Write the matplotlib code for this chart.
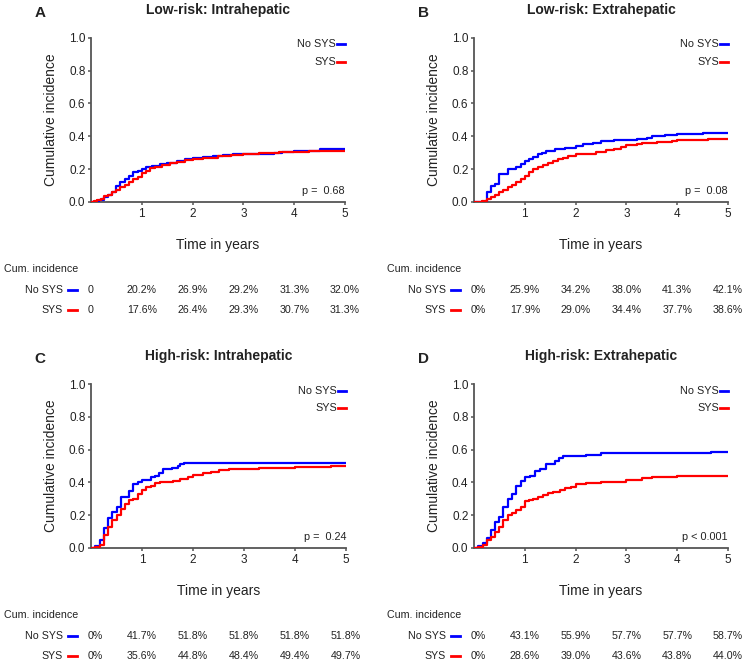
import numpy as np
import matplotlib
matplotlib.use("Agg")
from matplotlib import pyplot as plt

plt.rcParams['font.family'] = ['Liberation Sans', 'DejaVu Sans']

# step curves: (time in years, cumulative incidence)
a_nosys_t = [0, 0.15, 0.25, 0.33, 0.42, 0.5, 0.58, 0.67, 0.75, 0.83, 0.92, 1.0, 1.08, 1.2, 1.35, 1.5, 1.7, 1.85, 2.0, 2.2, 2.4, 2.6, 2.8, 3.0, 3.3, 3.6, 3.75, 4.0, 4.5, 5.0]
a_nosys_y = [0, 0.01, 0.03, 0.04, 0.06, 0.10, 0.12, 0.14, 0.16, 0.18, 0.19, 0.202, 0.21, 0.22, 0.23, 0.235, 0.25, 0.26, 0.269, 0.275, 0.28, 0.287, 0.29, 0.292, 0.295, 0.30, 0.307, 0.313, 0.32, 0.32]
a_sys_t = [0, 0.05, 0.12, 0.2, 0.25, 0.33, 0.42, 0.5, 0.58, 0.67, 0.75, 0.83, 0.92, 1.0, 1.08, 1.17, 1.25, 1.4, 1.55, 1.7, 1.85, 2.0, 2.2, 2.5, 2.75, 3.0, 3.3, 3.5, 3.7, 4.3, 4.8, 5.0]
a_sys_y = [0, 0.005, 0.01, 0.02, 0.035, 0.045, 0.06, 0.075, 0.09, 0.105, 0.12, 0.14, 0.155, 0.176, 0.19, 0.205, 0.215, 0.225, 0.235, 0.245, 0.255, 0.264, 0.27, 0.28, 0.288, 0.293, 0.296, 0.30, 0.307, 0.31, 0.313, 0.313]

b_nosys_t = [0, 0.25, 0.33, 0.42, 0.5, 0.67, 0.83, 0.92, 1.0, 1.08, 1.17, 1.25, 1.33, 1.42, 1.6, 1.8, 2.0, 2.15, 2.35, 2.5, 2.75, 3.0, 3.2, 3.4, 3.5, 3.75, 4.0, 4.2, 4.5, 5.0]
b_nosys_y = [0, 0.06, 0.10, 0.11, 0.17, 0.20, 0.21, 0.23, 0.25, 0.26, 0.275, 0.29, 0.30, 0.31, 0.32, 0.33, 0.342, 0.35, 0.36, 0.37, 0.375, 0.38, 0.385, 0.39, 0.40, 0.41, 0.413, 0.415, 0.42, 0.421]
b_sys_t = [0, 0.15, 0.25, 0.33, 0.42, 0.5, 0.58, 0.67, 0.75, 0.83, 0.92, 1.0, 1.08, 1.17, 1.25, 1.35, 1.45, 1.55, 1.65, 1.75, 1.85, 2.0, 2.2, 2.4, 2.6, 2.75, 2.9, 3.0, 3.2, 3.3, 3.6, 3.9, 4.0, 4.3, 4.6, 5.0]
b_sys_y = [0, 0.005, 0.02, 0.03, 0.045, 0.06, 0.075, 0.09, 0.105, 0.12, 0.14, 0.16, 0.18, 0.20, 0.215, 0.225, 0.235, 0.25, 0.26, 0.27, 0.28, 0.29, 0.295, 0.305, 0.315, 0.325, 0.335, 0.344, 0.355, 0.36, 0.365, 0.37, 0.377, 0.38, 0.383, 0.386]

c_nosys_t = [0, 0.08, 0.17, 0.25, 0.33, 0.42, 0.5, 0.58, 0.75, 0.83, 0.92, 1.0, 1.17, 1.25, 1.33, 1.42, 1.58, 1.7, 1.75, 1.83, 5.0]
c_nosys_y = [0, 0.01, 0.05, 0.12, 0.18, 0.22, 0.25, 0.31, 0.35, 0.39, 0.40, 0.417, 0.43, 0.44, 0.46, 0.48, 0.49, 0.50, 0.51, 0.518, 0.518]
c_sys_t = [0, 0.08, 0.17, 0.25, 0.33, 0.42, 0.5, 0.58, 0.67, 0.75, 0.83, 0.92, 1.0, 1.08, 1.17, 1.25, 1.35, 1.5, 1.6, 1.75, 1.9, 2.0, 2.2, 2.35, 2.5, 2.7, 3.0, 3.3, 4.0, 4.3, 4.7, 5.0]
c_sys_y = [0, 0.005, 0.02, 0.08, 0.13, 0.17, 0.20, 0.24, 0.27, 0.29, 0.30, 0.33, 0.356, 0.37, 0.38, 0.395, 0.40, 0.405, 0.41, 0.42, 0.43, 0.448, 0.455, 0.465, 0.475, 0.48, 0.484, 0.49, 0.494, 0.495, 0.497, 0.497]

d_nosys_t = [0, 0.08, 0.17, 0.25, 0.33, 0.42, 0.5, 0.58, 0.67, 0.75, 0.83, 0.92, 1.0, 1.1, 1.2, 1.3, 1.42, 1.6, 1.67, 1.75, 2.2, 2.5, 4.67, 5.0]
d_nosys_y = [0, 0.01, 0.03, 0.06, 0.11, 0.16, 0.19, 0.25, 0.30, 0.33, 0.38, 0.41, 0.431, 0.44, 0.47, 0.48, 0.51, 0.53, 0.55, 0.559, 0.567, 0.577, 0.587, 0.587]
d_sys_t = [0, 0.08, 0.17, 0.25, 0.33, 0.42, 0.5, 0.58, 0.67, 0.75, 0.83, 0.92, 1.0, 1.08, 1.17, 1.25, 1.35, 1.45, 1.55, 1.7, 1.8, 1.9, 2.0, 2.2, 2.5, 3.0, 3.3, 3.5, 4.0, 4.5, 5.0]
d_sys_y = [0, 0.005, 0.02, 0.05, 0.07, 0.10, 0.13, 0.17, 0.20, 0.215, 0.23, 0.25, 0.286, 0.29, 0.30, 0.31, 0.325, 0.335, 0.34, 0.355, 0.365, 0.375, 0.39, 0.395, 0.405, 0.416, 0.425, 0.433, 0.438, 0.44, 0.44]

titles = ['Low-risk: Intrahepatic', 'Low-risk: Extrahepatic', 'High-risk: Intrahepatic', 'High-risk: Extrahepatic']
letters = ['A', 'B', 'C', 'D']
p_values = ['p =  0.68', 'p =  0.08', 'p =  0.24', 'p < 0.001']
table_nosys = [['0', '20.2%', '26.9%', '29.2%', '31.3%', '32.0%'],
               ['0%', '25.9%', '34.2%', '38.0%', '41.3%', '42.1%'],
               ['0%', '41.7%', '51.8%', '51.8%', '51.8%', '51.8%'],
               ['0%', '43.1%', '55.9%', '57.7%', '57.7%', '58.7%']]
table_sys = [['0', '17.6%', '26.4%', '29.3%', '30.7%', '31.3%'],
             ['0%', '17.9%', '29.0%', '34.4%', '37.7%', '38.6%'],
             ['0%', '35.6%', '44.8%', '48.4%', '49.4%', '49.7%'],
             ['0%', '28.6%', '39.0%', '43.6%', '43.8%', '44.0%']]
table_times = [0, 1, 2, 3, 4, 5]

curves = [(a_nosys_t, a_nosys_y, a_sys_t, a_sys_y),
          (b_nosys_t, b_nosys_y, b_sys_t, b_sys_y),
          (c_nosys_t, c_nosys_y, c_sys_t, c_sys_y),
          (d_nosys_t, d_nosys_y, d_sys_t, d_sys_y)]

BLUE = '#0000ff'
RED = '#ff0000'
GREY = '#555555'
TXT = '#222222'

fig = plt.figure(figsize=(7.5, 6.64), dpi=100)

W, H = 750.0, 664.0
# axes boxes in pixels: left, right, top, bottom
boxes = [(91, 345, 37.7, 202), (474, 728, 37.7, 202),
         (91, 346, 384, 548), (474, 728, 384, 548)]

for i in range(4):
    l, r, t, b = boxes[i]
    ax = fig.add_axes([l / W, 1 - b / H, (r - l) / W, (b - t) / H])
    nt, ny, st, sy = curves[i]
    ax.step(nt, ny, where='post', color=BLUE, lw=1.6, zorder=3)
    ax.step(st, sy, where='post', color=RED, lw=1.6, zorder=3)

    ax.set_xlim(0, 5)
    ax.set_ylim(0, 1)
    ax.set_xticks([1, 2, 3, 4, 5])
    ax.set_yticks(np.arange(0, 1.01, 0.2))
    ax.set_yticklabels(['%.1f' % v for v in np.arange(0, 1.01, 0.2)])
    for s in ['top', 'right']:
        ax.spines[s].set_visible(False)
    for s in ['left', 'bottom']:
        ax.spines[s].set_color(GREY)
        ax.spines[s].set_linewidth(1.3)
    ax.tick_params(colors=GREY, labelcolor=TXT, labelsize=8.5, length=2.5, width=1.1, pad=1.5)
    ax.set_ylabel('Cumulative incidence', fontsize=10, color=TXT, labelpad=8)
    ax.set_xlabel('Time in years', fontsize=10, color=TXT, labelpad=13)

    ax.set_title(titles[i], fontsize=10, fontweight='bold', color=TXT, pad=17)
    ax.text(-0.2, 1.15, letters[i], transform=ax.transAxes, fontsize=11,
            fontweight='bold', color=TXT, ha='center', va='center')

    # legend at top right
    ax.text(0.965, 0.96, 'No SYS', transform=ax.transAxes, ha='right', va='center',
            fontsize=7.8, color=TXT)
    ax.text(0.965, 0.855, 'SYS', transform=ax.transAxes, ha='right', va='center',
            fontsize=7.8, color=TXT)
    ax.plot([0.97, 1.0], [0.96, 0.96], transform=ax.transAxes, color=BLUE, lw=2, clip_on=False)
    ax.plot([0.97, 1.0], [0.855, 0.855], transform=ax.transAxes, color=RED, lw=2, clip_on=False)

    ax.text(1.0, 0.065, p_values[i], transform=ax.transAxes, ha='right', va='center',
            fontsize=7.8, color=TXT)

    # table below the axes
    trans = matplotlib.transforms.blended_transform_factory(ax.transData, ax.transAxes)
    ax.text(-0.343, -0.408, 'Cum. incidence', transform=ax.transAxes, ha='left',
            va='center', fontsize=7.7, color=TXT)
    rows = [('No SYS', BLUE, table_nosys[i], -0.536), ('SYS', RED, table_sys[i], -0.657)]
    for name, col, vals, yy in rows:
        ax.text(-0.11, yy, name, transform=ax.transAxes, ha='right', va='center',
                fontsize=7.7, color=TXT)
        ax.plot([-0.09, -0.055], [yy, yy], transform=ax.transAxes, color=col, lw=2,
                clip_on=False)
        for tt, v in zip(table_times, vals):
            if tt == 0:
                ax.text(-0.012, yy, v, transform=ax.transAxes, ha='left', va='center',
                        fontsize=7.7, color=TXT)
            else:
                ax.text(tt, yy, v, transform=trans, ha='center', va='center',
                        fontsize=7.7, color=TXT)

fig.savefig('out.png', dpi=100)
